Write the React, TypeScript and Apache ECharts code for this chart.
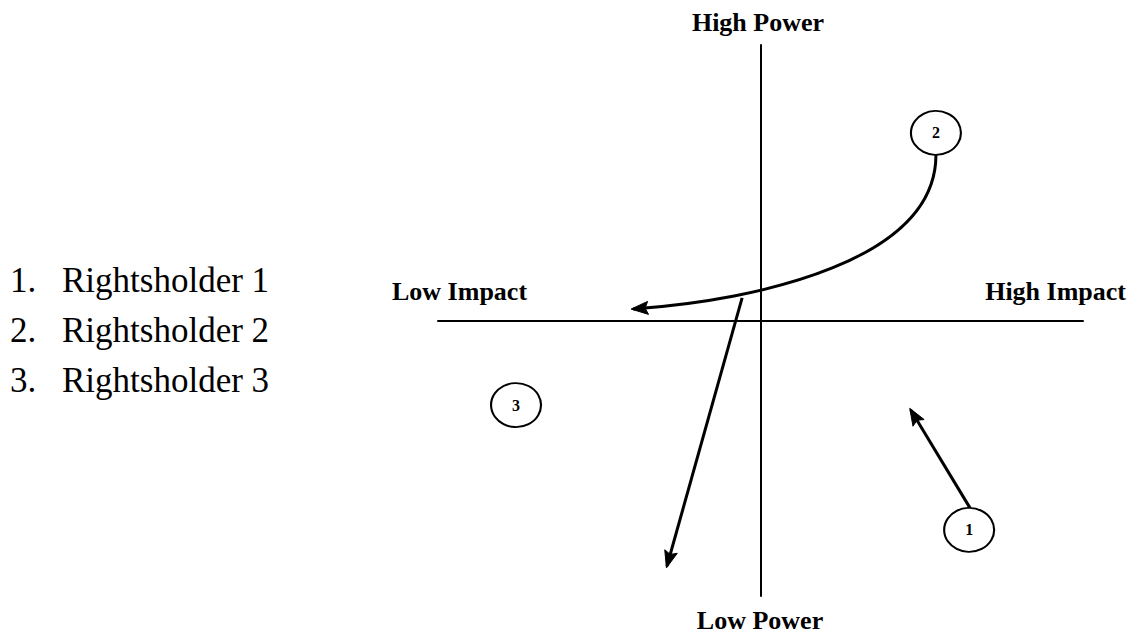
import React, { useEffect, useRef } from "react";
import * as echarts from "echarts";

// Rightsholders (circles) positioned on Impact (x) / Power (y) axes, range -10..10
const rightsholderIds = ["1", "2", "3"];
const rightsholderNames = ["Rightsholder 1", "Rightsholder 2", "Rightsholder 3"];
const impactValues = [6.47, 5.44, -7.58];
const powerValues = [-7.6, 6.81, -3.07];

// Movement arrows (data coordinates). 2 points = straight, 4 points = cubic curve
const arrowRightsholder1 = [[6.5, -6.81], [4.66, -3.25]];
const arrowRightsholder2 = [[5.44, 6.01], [5.44, 2.2], [0, 0.74], [-3.95, 0.42]];
const arrowBranch = [[-0.57, 0.82], [-2.9, -8.91]];
const arrows = [arrowRightsholder1, arrowRightsholder2, arrowBranch];

const axisTitles = ["High Power", "Low Power", "Low Impact", "High Impact"];

const SERIF = '"Liberation Serif", "Times New Roman", serif';

export default function App() {
  const ref = useRef<HTMLDivElement>(null);
  useEffect(() => {
    if (!ref.current) return;
    const chart = echarts.init(ref.current, undefined, { renderer: "svg" });

    const arrowHead = (tip: number[], from: number[]) => {
      const dx = tip[0] - from[0];
      const dy = tip[1] - from[1];
      const len = Math.sqrt(dx * dx + dy * dy) || 1;
      const ux = dx / len, uy = dy / len;
      const L = 15, W = 6.5;
      const bx = tip[0] - ux * L, by = tip[1] - uy * L;
      return [
        [tip[0] + ux * 2, tip[1] + uy * 2],
        [bx - uy * W, by + ux * W],
        [bx + ux * 3, by + uy * 3],
        [bx + uy * W, by - ux * W],
      ];
    };

    const legendGraphics: any[] = [];
    rightsholderNames.forEach((name, i) => {
      const y = 280 + i * 50;
      legendGraphics.push({
        type: "text",
        x: 10,
        y,
        style: { text: rightsholderIds[i] + ".", font: "35px " + SERIF, fill: "#000", textAlign: "left", textVerticalAlign: "middle" },
      });
      legendGraphics.push({
        type: "text",
        x: 62,
        y,
        style: { text: name, font: "35px " + SERIF, fill: "#000", textAlign: "left", textVerticalAlign: "middle" },
      });
    });

    const titleFont = "bold 26px " + SERIF;
    const titlePos = [
      [758, 22, "center"],
      [760, 620, "center"],
      [392, 291, "left"],
      [1126, 291, "right"],
    ];
    const titleGraphics = axisTitles.map((t, i) => ({
      type: "text",
      x: titlePos[i][0],
      y: titlePos[i][1],
      style: { text: t, font: titleFont, fill: "#000", textAlign: titlePos[i][2], textVerticalAlign: "middle" },
    }));

    const axisCommon = {
      type: "value",
      min: -10,
      max: 10,
      axisLine: { show: true, onZero: true, lineStyle: { color: "#000", width: 2 } },
      axisTick: { show: false },
      axisLabel: { show: false },
      splitLine: { show: false },
    };

    chart.setOption({
      animation: false,
      backgroundColor: "#fff",
      grid: { left: 438, right: 48, top: 45, bottom: 38, containLabel: false },
      xAxis: { ...axisCommon },
      yAxis: { ...axisCommon },
      graphic: [...legendGraphics, ...titleGraphics],
      series: [
        {
          type: "custom",
          clip: false,
          z: 3,
          data: arrows.map((a) => a[a.length - 1]),
          renderItem: (params: any, api: any) => {
            const pts = arrows[params.dataIndex].map((p) => api.coord(p));
            const children: any[] = [];
            const stroke = { stroke: "#000", lineWidth: 3, fill: "none" };
            const tip = pts[pts.length - 1];
            const prev = pts[pts.length - 2];
            if (pts.length === 4) {
              children.push({
                type: "bezierCurve",
                shape: {
                  x1: pts[0][0], y1: pts[0][1],
                  cpx1: pts[1][0], cpy1: pts[1][1],
                  cpx2: pts[2][0], cpy2: pts[2][1],
                  x2: pts[3][0], y2: pts[3][1],
                },
                style: stroke,
              });
            } else {
              children.push({
                type: "line",
                shape: { x1: pts[0][0], y1: pts[0][1], x2: tip[0], y2: tip[1] },
                style: stroke,
              });
            }
            children.push({
              type: "polygon",
              shape: { points: arrowHead(tip, prev) },
              style: { fill: "#000", stroke: "#000", lineWidth: 1 },
            });
            return { type: "group", children };
          },
        },
        {
          type: "scatter",
          z: 4,
          symbol: "circle",
          symbolSize: [50, 44],
          data: impactValues.map((v, i) => [v, powerValues[i], rightsholderIds[i]]),
          itemStyle: { color: "#fff", borderColor: "#000", borderWidth: 2, opacity: 1 },
          label: {
            show: true,
            position: "inside",
            formatter: (p: any) => p.value[2],
            color: "#000",
            fontFamily: SERIF,
            fontWeight: "bold",
            fontSize: 16,
          },
        },
      ],
    });
    return () => chart.dispose();
  }, []);
  return (
    <div
      ref={ref}
      style={{ position: "absolute", left: 0, top: 0, width: 1131, height: 634, background: "#fff" }}
    />
  );
}
